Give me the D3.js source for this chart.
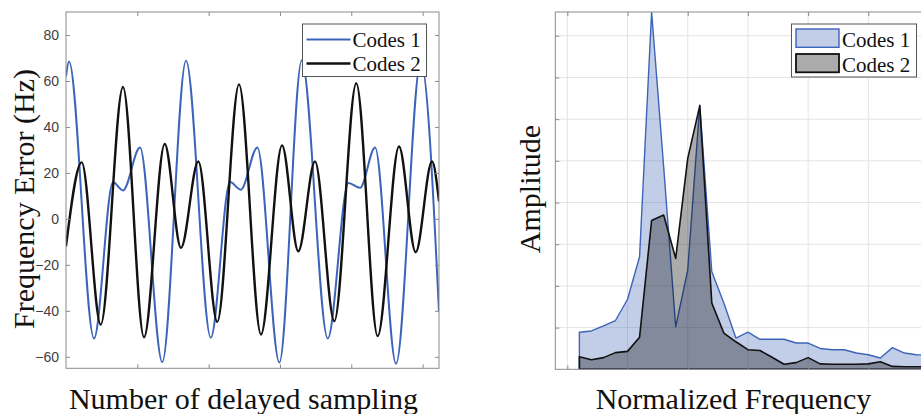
<!DOCTYPE html>
<html>
<head>
<meta charset="utf-8">
<script src="https://d3js.org/d3.v7.min.js"></script>
<style>
  body { margin: 0; background: #fff; }
  svg { display: block; }
</style>
</head>
<body>
<svg id="chart" width="921" height="414"></svg>
<script>
// ---- left panel: frequency error over delayed sampling ----
const delay1    = [0, 4.2, 39.3, 65.9, 80, 103.8, 135, 168.3, 203, 230, 245, 268.3, 299.2, 330.6, 367, 396, 412.3, 433.4, 462.8, 497.5, 523];
const codes1Err = [62, 68.5, -52, 15.9, 12.4, 31, -62.3, 68.8, -51.7, 16, 12.7, 31, -62.5, 69, -52, 15.6, 13.5, 31, -63, 68.5, -40.6];
const delay2    = [0, 22, 48.7, 79.9, 109.4, 138.4, 161.2, 185.5, 212.1, 242.6, 273.4, 302.9, 325.7, 349.1, 376.2, 407, 437, 466.9, 490.3, 513.2, 523];
const codes2Err = [-12, 24.6, -46, 57.4, -51.5, 32.6, -12.6, 25, -44.8, 58.5, -50.3, 32, -14.1, 25, -44.5, 59, -51, 31.5, -14.5, 25, 7.6];
const errTicks   = [-60, -40, -20, 0, 20, 40, 60, 80];
const delayTicks = [100, 200, 300, 400, 500];

// ---- right panel: spectrum ----
const normFreq  = [0.02, 0.04, 0.06, 0.08, 0.10, 0.12, 0.14, 0.16, 0.18, 0.20,
                   0.22, 0.24, 0.26, 0.28, 0.30, 0.32, 0.34, 0.36, 0.38, 0.40,
                   0.42, 0.44, 0.46, 0.48, 0.50, 0.52, 0.54, 0.56, 0.58, 0.60];
const codes1Amp = [0.89, 0.92, 1.04, 1.17, 1.68, 2.70, 8.57, 4.86, 1.02, 2.38,
                   6.34, 2.34, 1.59, 0.75, 0.89, 0.72, 0.72, 0.72, 0.63, 0.63,
                   0.50, 0.47, 0.47, 0.39, 0.35, 0.27, 0.52, 0.39, 0.35, 0.34];
const codes2Amp = [0.30, 0.23, 0.28, 0.40, 0.43, 0.77, 3.57, 3.70, 2.66, 5.06,
                   6.32, 1.59, 0.87, 0.66, 0.47, 0.45, 0.29, 0.12, 0.16, 0.28,
                   0.13, 0.12, 0.12, 0.12, 0.13, 0.18, 0.07, 0.06, 0.06, 0.06];
const ampTicks  = [1, 2, 3, 4, 5, 6, 7, 8];
const freqTicks = [0, 0.1, 0.2, 0.3, 0.4, 0.5, 0.6];

const seriesNames = ['Codes 1', 'Codes 2'];

const blue = '#3c64b9';
const dark = '#111111';
const axisCol = '#8a8a8a';
const serif = '"Liberation Serif", "Times New Roman", serif';

const svg = d3.select('#chart');

function tidy(g) {
  g.select('.domain').remove();
  g.selectAll('.tick line').attr('stroke', axisCol);
  g.selectAll('.tick text').attr('fill', '#404040')
    .style('font-family', '"Liberation Sans", Arial, sans-serif').style('font-size', '14px');
}

// ================= left panel =================
const L = {x0: 66, x1: 439, y0: 12, y1: 368.3};
const xL = d3.scaleLinear().domain([0, 523]).range([L.x0, L.x1]);
const yL = d3.scaleLinear().domain([-65, 90]).range([L.y1, L.y0]);

svg.append('defs').append('clipPath').attr('id', 'clipL')
  .append('rect').attr('x', L.x0).attr('y', L.y0).attr('width', L.x1 - L.x0).attr('height', L.y1 - L.y0);

const lineL = (xs, ys) => d3.line().curve(d3.curveMonotoneX)
  .x((d, i) => xL(xs[i])).y(d => yL(d))(ys);

const gL = svg.append('g').attr('clip-path', 'url(#clipL)');
gL.append('path').attr('d', lineL(delay1, codes1Err))
  .attr('fill', 'none').attr('stroke', blue).attr('stroke-width', 2);
gL.append('path').attr('d', lineL(delay2, codes2Err))
  .attr('fill', 'none').attr('stroke', dark).attr('stroke-width', 2.4);

svg.append('g').attr('transform', `translate(${L.x0},0)`)
  .call(d3.axisLeft(yL).tickValues(errTicks).tickSize(-4).tickPadding(7)).call(tidy);
svg.append('g').attr('transform', `translate(${L.x1},0)`)
  .call(d3.axisRight(yL).tickValues(errTicks).tickSize(-4).tickFormat('')).call(tidy);
svg.append('g').attr('transform', `translate(0,${L.y1})`)
  .call(d3.axisBottom(xL).tickValues(delayTicks).tickSize(-4).tickFormat('')).call(tidy);
svg.append('g').attr('transform', `translate(0,${L.y0})`)
  .call(d3.axisTop(xL).tickValues(delayTicks).tickSize(-4).tickFormat('')).call(tidy);

svg.append('rect').attr('x', L.x0).attr('y', L.y0)
  .attr('width', L.x1 - L.x0).attr('height', L.y1 - L.y0)
  .attr('fill', 'none').attr('stroke', axisCol).attr('stroke-width', 1);

// legend (line samples)
const legL = svg.append('g').attr('transform', 'translate(302.5,24)');
legL.append('rect').attr('width', 124).attr('height', 52.5)
  .attr('fill', '#fff').attr('stroke', '#555').attr('stroke-width', 1);
seriesNames.forEach((name, i) => {
  const cy = 15.5 + i * 24;
  legL.append('line').attr('x1', 4).attr('x2', 48).attr('y1', cy).attr('y2', cy)
    .attr('stroke', i === 0 ? blue : dark).attr('stroke-width', i === 0 ? 2 : 2.4);
  legL.append('text').attr('x', 50).attr('y', cy + 7.5).text(name)
    .attr('fill', '#111').style('font-family', serif).style('font-size', '21px');
});

svg.append('text').attr('transform', 'translate(33.5,199) rotate(-90)')
  .attr('text-anchor', 'middle').text('Frequency Error (Hz)')
  .attr('fill', '#111').style('font-family', serif).style('font-size', '30px');
svg.append('text').attr('x', 243.5).attr('y', 409)
  .attr('text-anchor', 'middle').text('Number of delayed sampling')
  .attr('fill', '#111').style('font-family', serif).style('font-size', '30px');

// ================= right panel =================
const R = {x0: 555.3, x1: 928.5, y0: 12, y1: 369.3};
const xR = d3.scaleLinear().domain([-0.02, 0.6]).range([R.x0, R.x1]);
const yR = d3.scaleLinear().domain([0, 8.57]).range([R.y1, R.y0]);

svg.select('defs').append('clipPath').attr('id', 'clipR')
  .append('rect').attr('x', R.x0).attr('y', R.y0).attr('width', R.x1 - R.x0).attr('height', R.y1 - R.y0);

const gR = svg.append('g').attr('clip-path', 'url(#clipR)');
// grid
gR.selectAll('.hgrid').data(ampTicks).join('line')
  .attr('x1', R.x0).attr('x2', R.x1).attr('y1', d => yR(d)).attr('y2', d => yR(d))
  .attr('stroke', '#e4e4e4').attr('stroke-width', 1);
gR.selectAll('.vgrid').data(freqTicks).join('line')
  .attr('y1', R.y0).attr('y2', R.y1).attr('x1', d => xR(d)).attr('x2', d => xR(d))
  .attr('stroke', '#e4e4e4').attr('stroke-width', 1);

const areaR = vals => d3.area()
  .x((d, i) => xR(normFreq[i])).y0(yR(0)).y1(d => yR(d))(vals);

gR.append('path').attr('d', areaR(codes1Amp))
  .attr('fill', 'rgba(59,96,181,0.31)').attr('stroke', blue).attr('stroke-width', 1.4)
  .attr('stroke-linejoin', 'round');
gR.append('path').attr('d', areaR(codes2Amp))
  .attr('fill', 'rgba(0,0,0,0.33)').attr('stroke', dark).attr('stroke-width', 1.6)
  .attr('stroke-linejoin', 'round');

svg.append('g').attr('transform', `translate(${R.x0},0)`)
  .call(d3.axisLeft(yR).tickValues(ampTicks).tickSize(-4).tickFormat('')).call(tidy);
svg.append('g').attr('transform', `translate(0,${R.y1})`)
  .call(d3.axisBottom(xR).tickValues(freqTicks).tickSize(-4).tickFormat('')).call(tidy);
svg.append('g').attr('transform', `translate(0,${R.y0})`)
  .call(d3.axisTop(xR).tickValues(freqTicks).tickSize(-4).tickFormat('')).call(tidy);

svg.append('rect').attr('x', R.x0).attr('y', R.y0)
  .attr('width', R.x1 - R.x0).attr('height', R.y1 - R.y0)
  .attr('fill', 'none').attr('stroke', axisCol).attr('stroke-width', 1);

// legend (patches)
const legR = svg.append('g').attr('transform', 'translate(791.5,24)');
legR.append('rect').attr('width', 125).attr('height', 53)
  .attr('fill', '#fff').attr('stroke', '#555').attr('stroke-width', 1);
seriesNames.forEach((name, i) => {
  const top = 5 + i * 25;
  legR.append('rect').attr('x', 4.5).attr('y', top).attr('width', 43).attr('height', 18.3)
    .attr('fill', i === 0 ? 'rgba(59,96,181,0.31)' : 'rgba(0,0,0,0.33)')
    .attr('stroke', i === 0 ? blue : dark).attr('stroke-width', i === 0 ? 1.4 : 1.8);
  legR.append('text').attr('x', 50.5).attr('y', top + 17.5).text(name)
    .attr('fill', '#111').style('font-family', serif).style('font-size', '21px');
});

svg.append('text').attr('transform', 'translate(540,189) rotate(-90)')
  .attr('text-anchor', 'middle').text('Amplitude')
  .attr('fill', '#111').style('font-family', serif).style('font-size', '30px');
svg.append('text').attr('x', 733.5).attr('y', 409)
  .attr('text-anchor', 'middle').text('Normalized Frequency')
  .attr('fill', '#111').style('font-family', serif).style('font-size', '30px');
</script>
</body>
</html>
